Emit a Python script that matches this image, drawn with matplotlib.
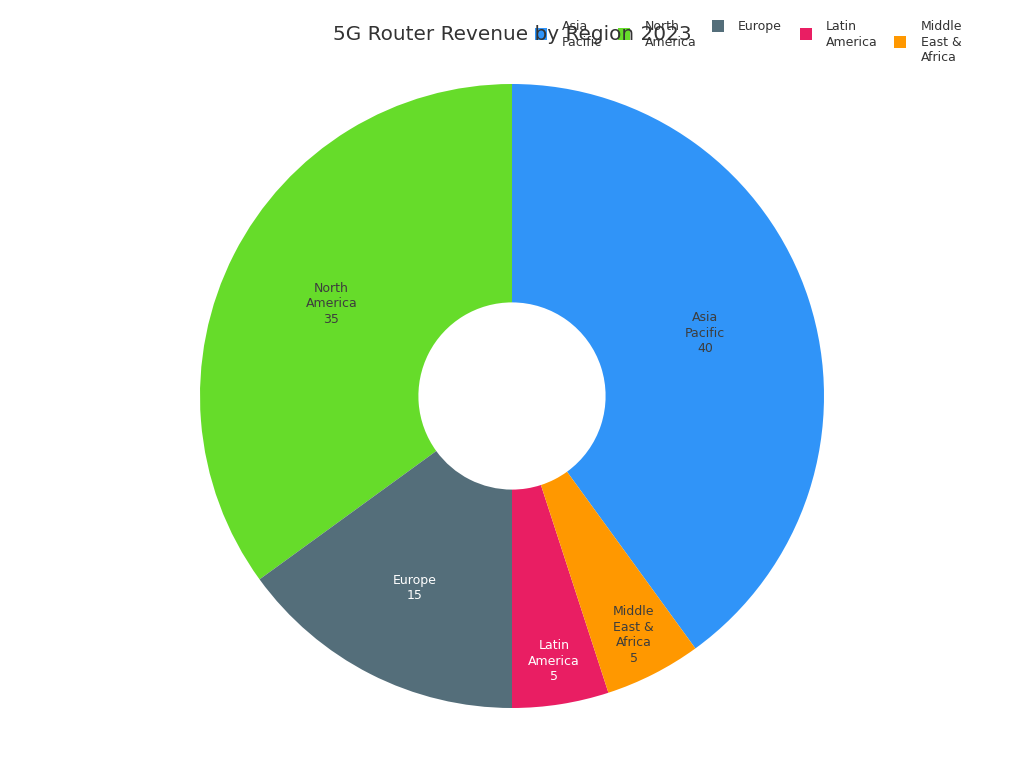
import matplotlib.pyplot as plt
from matplotlib.patches import Rectangle
import numpy as np

OUT = "out.png"

regions = ["Asia Pacific", "North America", "Europe", "Latin America", "Middle East & Africa"]
wrapped = ["Asia\nPacific", "North\nAmerica", "Europe", "Latin\nAmerica", "Middle\nEast &\nAfrica"]
revenue = [40, 35, 15, 5, 5]
colors = ["#3094F8", "#66DC2A", "#546E7A", "#E91E63", "#FF9800"]
text_colors = ["#3d3d3d", "#3d3d3d", "white", "white", "#3d3d3d"]

W, H = 1024, 768
fig = plt.figure(figsize=(W / 100, H / 100), dpi=100)
ax = fig.add_axes([0, 0, 1, 1])

R = 312
hole = 0.3
total = sum(revenue)
start = 90 - 360 * revenue[0] / total

wedges, _ = ax.pie(revenue, colors=colors, startangle=start, radius=R,
                   wedgeprops=dict(width=R * (1 - hole), linewidth=0))

# pie() resets the limits, so put the pixel frame back afterwards
cx, cy = 512, 396
ax.set_xlim(-cx, W - cx)
ax.set_ylim(-(H - cy), cy)
ax.set_aspect("equal")
ax.axis("off")

# narrow slices get their label pushed outward where the ring is wider
def label_radius(share):
    if share >= 0.3:
        return 0.65 * R
    if share >= 0.1:
        return 0.69 * R
    return 0.86 * R

for w, lab, v, tc in zip(wedges, wrapped, revenue, text_colors):
    ang = np.deg2rad((w.theta1 + w.theta2) / 2)
    r_lab = label_radius(v / total)
    ax.text(r_lab * np.cos(ang), r_lab * np.sin(ang), f"{lab}\n{v}",
            ha="center", va="center", fontsize=9, color=tc, linespacing=1.25)

fig.text(0.5, 1 - 35 / H, "5G Router Revenue by Region 2023", ha="center", va="center",
         fontsize=14.4, color="#333333")

# legend along the top, text top-aligned, swatch centred on its text block
marker_x = [541, 624, 718, 806, 900]
text_x = [562, 645, 738, 826, 921]
line_h = 15.5
top_line = 27
sz = 12
for mx, tx, lab, c in zip(marker_x, text_x, wrapped, colors):
    n = lab.count("\n") + 1
    my = top_line + (n - 1) * line_h / 2 - 1
    fig.patches.append(Rectangle(((mx - sz / 2) / W, 1 - (my + sz / 2) / H), sz / W, sz / H,
                                 transform=fig.transFigure, facecolor=c, edgecolor="none"))
    fig.text(tx / W, 1 - (top_line - 7) / H, lab, ha="left", va="top", fontsize=9,
             color="#333333", linespacing=1.25)

plt.savefig(OUT, dpi=100)
